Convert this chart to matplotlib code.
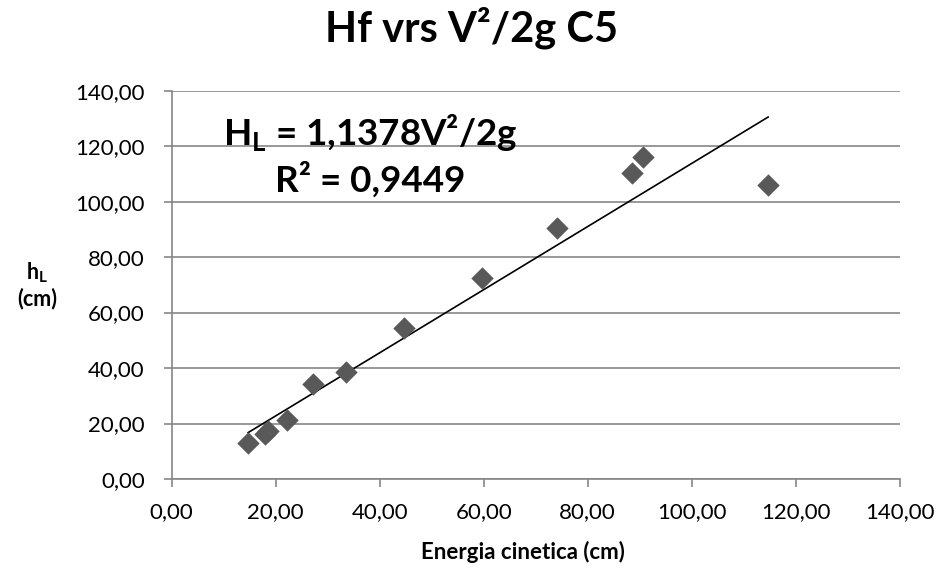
import matplotlib.pyplot as plt
import numpy as np

plt.rcParams['font.family'] = ['Lato', 'DejaVu Sans']
plt.rcParams['mathtext.fontset'] = 'custom'
plt.rcParams['mathtext.rm'] = 'Lato:bold'
plt.rcParams['mathtext.bf'] = 'Lato:bold'

# energia cinetica V^2/2g (cm) vs perdida hL (cm)
energia = [14.7, 17.9, 18.6, 22.1, 27.2, 33.5, 44.7, 59.7, 74.0, 88.5, 90.7, 114.7]
hl = [13.1, 16.2, 17.3, 21.3, 34.2, 38.6, 54.3, 72.6, 90.4, 110.4, 116.2, 106.0]
pendiente = 1.1378
r2 = 0.9449

ticks = np.arange(0, 141, 20)
tick_labels = [f'{t:.2f}'.replace('.', ',') for t in ticks]

grid_col = '#868686'

fig = plt.figure(figsize=(9.43, 5.69), dpi=100)
ax = fig.add_axes([0.1821, 0.1582, 0.772, 0.6824])

ax.scatter(energia, hl, marker='D', s=130, color='#595959', zorder=3, linewidths=0)

xt = np.array([min(energia), max(energia)])
ax.plot(xt, pendiente * xt, color='black', lw=1.2, zorder=2)

ax.set_xlim(0, 140)
ax.set_ylim(0, 140)
ax.set_xticks(ticks)
ax.set_xticklabels(tick_labels)
ax.set_yticks(ticks)
ax.set_yticklabels(tick_labels)
ax.tick_params(axis='both', labelsize=16, color=grid_col, length=5.5, width=1.2, direction='out')
ax.tick_params(axis='x', pad=11)
ax.tick_params(axis='y', pad=14)
ax.grid(axis='y', color=grid_col, lw=1.2)
ax.set_axisbelow(True)
for s in ['top', 'right']:
    ax.spines[s].set_visible(False)
for s in ['left', 'bottom']:
    ax.spines[s].set_color(grid_col)
    ax.spines[s].set_linewidth(1.2)

fig.text(0.555, 0.030, 'Energia cinetica (cm)', fontsize=16, fontweight='bold',
         ha='center', va='center')
fig.text(0.039, 0.5, 'h$_\\mathregular{L}$\n(cm)', fontsize=15.5, fontweight='bold',
         ha='center', va='center', linespacing=1.15)

fig.text(0.5, 0.951, 'Hf vrs V²/2g C5', fontsize=30, fontweight='bold',
         ha='center', va='center')

ax.text(38.1, 124.7, 'H$_\\mathregular{L}$ = ' + f'{pendiente}'.replace('.', ',') + 'V²/2g',
        fontsize=26.5, fontweight='bold', ha='center', va='center')
ax.text(38.1, 107.8, 'R² = ' + f'{r2}'.replace('.', ','),
        fontsize=26.5, fontweight='bold', ha='center', va='center')

fig.savefig('out.png', dpi=100)
